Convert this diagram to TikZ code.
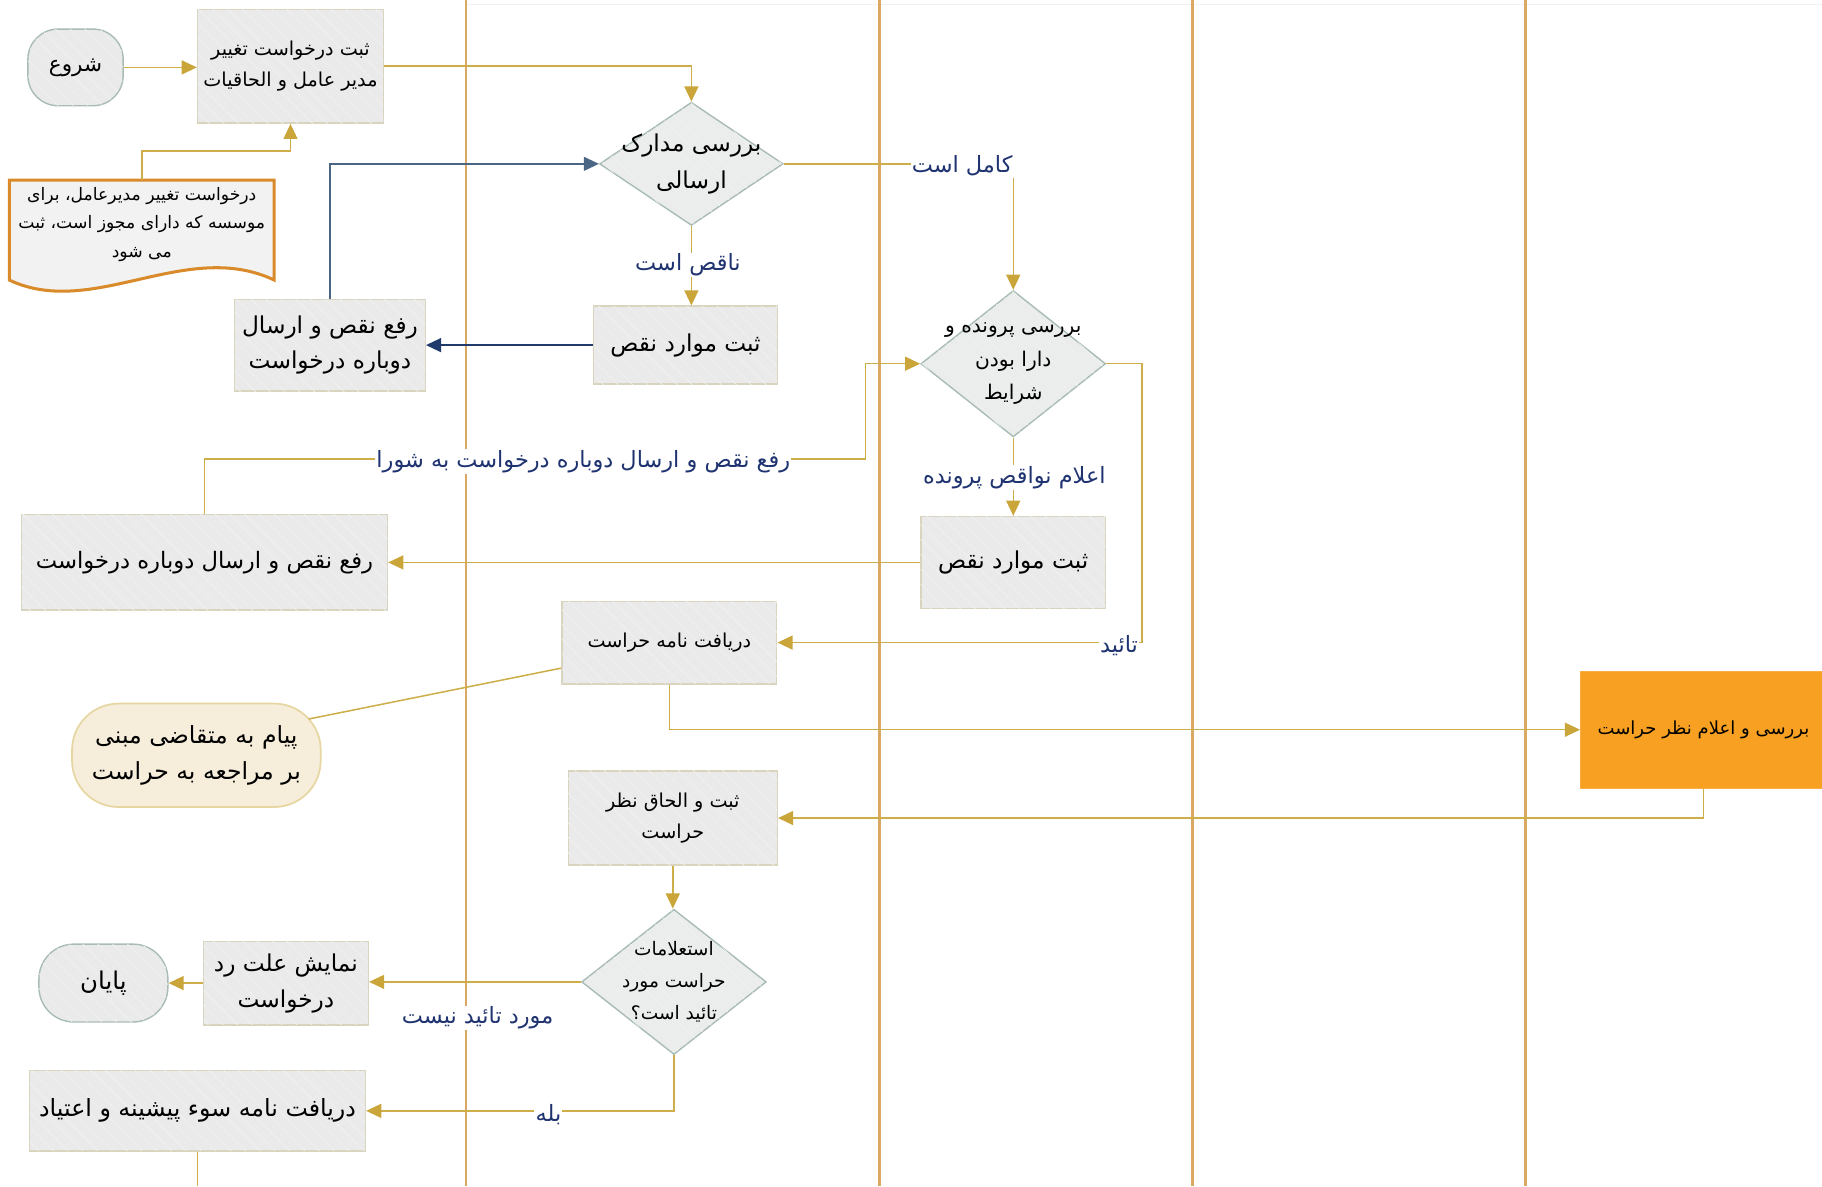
\documentclass[tikz,border=0pt]{standalone}
\usepackage{fontspec}
\usetikzlibrary{shapes.geometric,arrows.meta,calc,patterns.meta}
\TeXXeTstate=1
\newfontfamily\arf[Script=Arabic]{DejaVu Sans}
\newcommand\prs[1]{\beginR #1\endR}
\definecolor{lanec}{HTML}{D9A862}
\definecolor{connc}{HTML}{CDAE48}
\definecolor{arrc}{HTML}{C9A53A}
\definecolor{navy}{HTML}{1F3370}
\definecolor{bluec}{HTML}{1F3A6B}
\definecolor{steel}{HTML}{4B6584}
\definecolor{boxf}{HTML}{EAEAEA}
\definecolor{boxb}{HTML}{D8D4BE}
\definecolor{hatchc}{HTML}{F1F1F1}
\definecolor{diaf}{HTML}{EBEDEC}
\definecolor{diab}{HTML}{A8BCB4}
\definecolor{notec}{HTML}{D98A2A}
\definecolor{notef}{HTML}{F2F2F2}
\definecolor{creamf}{HTML}{F6EEDB}
\definecolor{creamb}{HTML}{E6D7A2}
\definecolor{orangef}{HTML}{F7A021}
\begin{document}
\begin{tikzpicture}[x=1pt,y=-1pt,
  lane/.style={draw=lanec, line width=2.4pt},
  conn/.style={draw=connc, line width=1.3pt, -{Triangle[length=13pt,width=12pt,fill=arrc,color=arrc]}},
  plain/.style={draw=connc, line width=1.3pt},
  hatch/.style={postaction={pattern={Lines[angle=-45,distance=9pt,line width=0.6pt]}, pattern color=hatchc}},
  box/.style={draw=boxb, fill=boxf, line width=1.2pt, align=center, inner sep=2pt, hatch},
  dia/.style={diamond, draw=diab, fill=diaf, line width=1.2pt, inner sep=0pt, hatch},
  diatext/.style={align=center, inner sep=0pt},
  term/.style={draw=diab, fill=boxf, line width=1.2pt, align=center, inner sep=2pt, hatch},
  big/.style={font=\arf\fontsize{20}{30}\selectfont},
  mid/.style={font=\arf\fontsize{16.5}{27}\selectfont},
  lbl/.style={fill=white, text=navy, inner sep=1pt, font=\arf\fontsize{19.3}{22}\selectfont}
]
\useasboundingbox (0,0) rectangle (1568,1021);
% lanes
\draw[draw=gray!12, line width=0.8pt] (401,4) -- (1568,4);
\draw[lane] (401,0) -- (401,1021);
\draw[lane] (757,0) -- (757,1021);
\draw[lane] (1026,0) -- (1026,1021);
\draw[lane] (1313,0) -- (1313,1021);

% nodes
\node[term, font=\arf\fontsize{18.5}{24}\selectfont, rounded corners=26pt, minimum width=82pt, minimum height=66pt] (start) at (65,58) {\prs{شروع}};
\node[box, mid, minimum width=160pt, minimum height=98pt] (b1) at (250,57) {\prs{ثبت درخواست تغییر}\\\prs{مدیر عامل و الحاقیات}};
\node[dia, minimum width=158pt, minimum height=106pt] (d1) at (595,141) {};
\node[diatext, font=\arf\fontsize{20}{32}\selectfont] (d1t) at (d1.center) {\prs{بررسی مدارک}\\\prs{ارسالی}};
% document note
\draw[draw=notec, fill=notef, line width=2.6pt] (8,155) -- (236,155) -- (236,241) .. controls (160,205) and (80,275) .. (8,241) -- cycle;
\node[align=center, inner sep=0pt, font=\arf\fontsize{14.8}{24.5}\selectfont] (note) at (122,193) {\prs{درخواست تغییر مدیرعامل، برای}\\\prs{موسسه که دارای مجوز است، ثبت}\\\prs{می شود}};
\coordinate (notetop) at (122,155);
\node[box, big, minimum width=158pt, minimum height=67pt] (b2) at (590,297) {\prs{ثبت موارد نقص}};
\node[box, big, minimum width=164pt, minimum height=79pt] (b3) at (284,297) {\prs{رفع نقص و ارسال}\\\prs{دوباره درخواست}};
\node[dia, minimum width=159pt, minimum height=126pt] (d2) at (872,313) {};
\node[diatext, font=\arf\fontsize{17.4}{29}\selectfont] (d2t) at (d2.center) {\prs{بررسی پرونده و}\\\prs{دارا بودن}\\\prs{شرایط}};
\node[box, big, minimum width=159pt, minimum height=79pt] (b4) at (872,484) {\prs{ثبت موارد نقص}};
\node[box, font=\arf\fontsize{19.5}{30}\selectfont, minimum width=315pt, minimum height=82pt] (b5) at (176,484) {\prs{رفع نقص و ارسال دوباره درخواست}};
\node[box, mid, minimum width=185pt, minimum height=71pt] (b6) at (576,553) {\prs{دریافت نامه حراست}};
\node[draw=orangef!85!white, fill=orangef, font=\arf\fontsize{15.5}{24}\selectfont, minimum width=212pt, minimum height=101pt, inner sep=2pt] (b7) at (1466,628) {\prs{بررسی و اعلام نظر حراست}};
\node[draw=creamb, fill=creamf, line width=1.5pt, rounded corners=40pt, align=center, font=\arf\fontsize{20.3}{31}\selectfont, minimum width=214pt, minimum height=89pt] (t1) at (169,650) {\prs{پیام به متقاضی مبنی}\\\prs{بر مراجعه به حراست}};
\node[box, mid, minimum width=180pt, minimum height=81pt] (b8) at (579,704) {\prs{ثبت و الحاق نظر}\\\prs{حراست}};
\node[dia, minimum width=159pt, minimum height=125pt] (d3) at (580,845) {};
\node[diatext, font=\arf\fontsize{16}{27.5}\selectfont] (d3t) at (d3.center) {\prs{استعلامات}\\\prs{حراست مورد}\\\prs{تائید است؟}};
\node[box, font=\arf\fontsize{20}{31}\selectfont, minimum width=142pt, minimum height=72pt] (b9) at (246,846) {\prs{نمایش علت رد}\\\prs{درخواست}};
\node[term, font=\arf\fontsize{21}{26}\selectfont, rounded corners=30pt, minimum width=111pt, minimum height=67pt] (end) at (89,846) {\prs{پایان}};
\node[box, font=\arf\fontsize{20.4}{30}\selectfont, minimum width=289pt, minimum height=69pt] (b10) at (170,956) {\prs{دریافت نامه سوء پیشینه و اعتیاد}};
\coordinate (b10out) at (170,1021);

% connectors
\draw[conn] (start.east) -- (start.east -| b1.west);
\draw[conn] (b1.east) -| (d1.north);
\draw[conn] (notetop) -- (122,130) -| (b1.south);
\draw[conn] (d1.east) -| (d2.north);
\draw[conn] (d1.south) -- (d1.south |- b2.north);
\draw[draw=bluec, line width=1.3pt, -{Triangle[length=13pt,width=12pt]}] (b2.west) -- (b3.east);
\draw[draw=steel, line width=1.3pt, -{Triangle[length=13pt,width=12pt]}] (b3.north) |- (d1.west);
\draw[conn] (d2.south) -- (b4.north);
\draw[conn] (b4.west) -- (b5.east);
\draw[conn] (b5.north) -- (176,395) -- (745,395) |- (d2.west);
\draw[conn] (d2.east) -- (983,313) |- (b6.east);
\draw[plain] ($(b6.west)+(0,22)$) -- ($(t1.north east)+(-11,14)$);
\draw[conn] (b6.south) |- (b7.west);
\draw[conn] (b7.south) |- (b8.east);
\draw[conn] (b8.south) -- (b8.south |- d3.north);
\draw[conn] (d3.west) -- (d3.west -| b9.east);
\draw[conn] (b9.west) -- (b9.west -| end.east);
\draw[conn] (d3.south) |- (b10.east);
\draw[plain] (b10.south) -- (b10out);

% labels
\node[lbl] (l1) at (828,143) {\prs{کامل است}};
\node[lbl] (l2) at (592,228) {\prs{ناقص است}};
\node[lbl] (l3) at (873,411) {\prs{اعلام نواقص پرونده}};
\node[lbl] (l4) at (502,397) {\prs{رفع نقص و ارسال دوباره درخواست به شورا}};
\node[lbl] (l5) at (963,556) {\prs{تائید}};
\node[lbl] (l6) at (411,876) {\prs{مورد تائید نیست}};
\node[lbl] (l7) at (472,959) {\prs{بله}};
\end{tikzpicture}
\end{document}
